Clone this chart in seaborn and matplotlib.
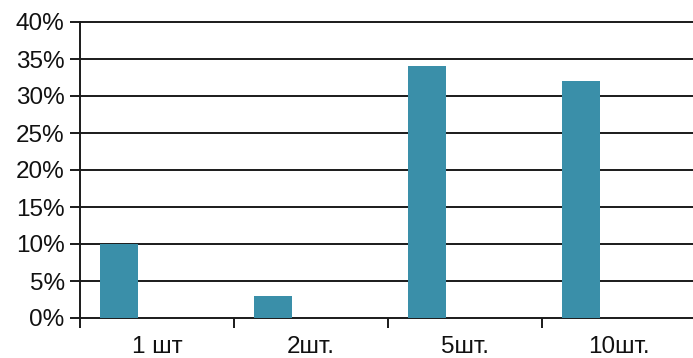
import matplotlib
matplotlib.use("Agg")
import matplotlib.pyplot as plt
import seaborn as sns
import pandas as pd
import numpy as np
from matplotlib.ticker import FixedLocator, PercentFormatter

categories = ["1 шт", "2шт.", "5шт.", "10шт."]
values = [10, 3, 34, 32]
series = ["s1", "s2", "s3"]
yticks = [0, 5, 10, 15, 20, 25, 30, 35, 40]

rows = []
for c, v in zip(categories, values):
    rows.append({"cat": c, "series": "s1", "val": v})
    rows.append({"cat": c, "series": "s2", "val": 0})
    rows.append({"cat": c, "series": "s3", "val": 0})
df = pd.DataFrame(rows)

sns.set_theme(style="white")
plt.rcParams["font.family"] = ["Liberation Sans", "DejaVu Sans"]

fig = plt.figure(figsize=(6.93, 3.58), dpi=100)
ax = fig.add_axes([80/693, 40/358, 616/693, 296/358])

sns.barplot(data=df, x="cat", y="val", hue="series", hue_order=series, order=categories,
            palette=["#3a8fa9", "#3a8fa9", "#3a8fa9"], width=0.74, gap=0, saturation=1,
            linewidth=0, edgecolor="none", legend=False, ax=ax, errorbar=None, zorder=3)

ax.set_xlim(-0.5, 3.5)
ax.set_ylim(0, 40)
ax.set_xlabel("")
ax.set_ylabel("")

lc = "#1a1a1a"
for t in yticks:
    ax.axhline(t, color=lc, lw=1.4, zorder=1, clip_on=False)

ax.set_yticks(yticks)
ax.yaxis.set_major_formatter(PercentFormatter(decimals=0))
ax.tick_params(axis="y", length=7, width=1.4, color=lc, pad=4, labelsize=17.5, labelcolor="#111", left=True)

ax.xaxis.set_major_locator(FixedLocator([-0.5, 0.5, 1.5, 2.5, 3.5]))
ax.xaxis.set_major_formatter(matplotlib.ticker.NullFormatter())
ax.xaxis.set_minor_locator(FixedLocator([0, 1, 2, 3]))
ax.xaxis.set_minor_formatter(matplotlib.ticker.FixedFormatter(categories))
ax.tick_params(axis="x", which="major", length=7, width=1.4, color=lc, bottom=True, direction="out")
ax.tick_params(axis="x", which="minor", length=0, pad=13, labelsize=17.5, labelcolor="#111", bottom=True)

for s in ["top", "right", "bottom"]:
    ax.spines[s].set_visible(False)
ax.spines["left"].set_color(lc)
ax.spines["left"].set_linewidth(1.4)
ax.spines["left"].set_zorder(4)

fig.savefig("out.png", dpi=100)
